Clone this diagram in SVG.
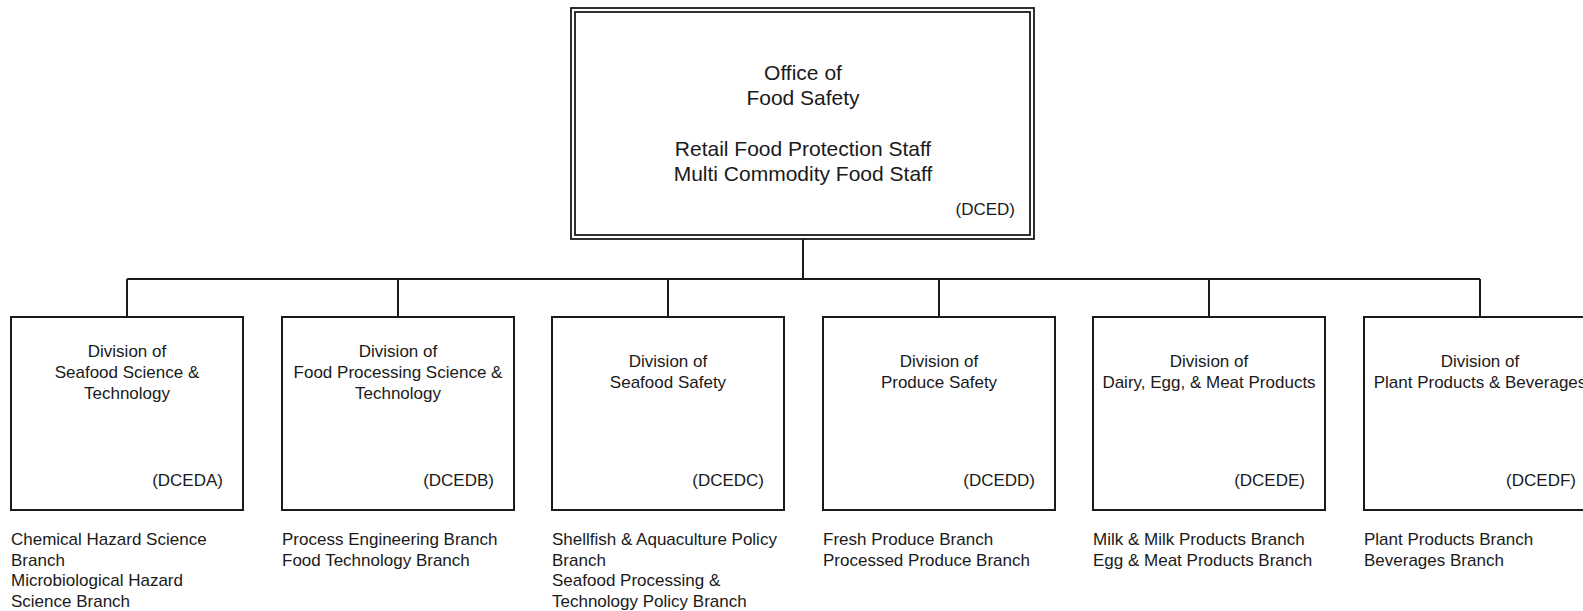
<svg xmlns="http://www.w3.org/2000/svg" width="1583" height="611" viewBox="0 0 1583 611">
<style>
  .box { fill: #ffffff; stroke: #1a1a1a; stroke-width: 2; }
  .dbl { fill: none; stroke: #1a1a1a; stroke-width: 1.8; }
  .conn { stroke: #1a1a1a; stroke-width: 2; fill: none; }
  text { font-family: "Liberation Sans", Arial, sans-serif; fill: #1a1a1a; }
  .t21 { font-size: 21px; text-anchor: middle; }
  .c17 { font-size: 17px; text-anchor: middle; }
  .r17 { font-size: 17px; text-anchor: end; }
  .l17 { font-size: 17px; text-anchor: start; }
</style>
<rect width="1583" height="611" fill="#ffffff"/>
<g id="connectors">
  <line class="conn" x1="803" y1="239" x2="803" y2="279"/>
  <line class="conn" x1="127" y1="279" x2="1480" y2="279"/>
  <line class="conn" x1="127" y1="279" x2="127" y2="317"/>
  <line class="conn" x1="398" y1="279" x2="398" y2="317"/>
  <line class="conn" x1="668" y1="279" x2="668" y2="317"/>
  <line class="conn" x1="939" y1="279" x2="939" y2="317"/>
  <line class="conn" x1="1209" y1="279" x2="1209" y2="317"/>
  <line class="conn" x1="1480" y1="279" x2="1480" y2="317"/>
</g>
<g id="office">
  <rect class="dbl" x="571" y="8" width="463" height="231" fill="#ffffff"/>
  <rect class="dbl" x="575" y="12" width="455" height="223"/>
  <text class="t21" x="803" y="80">Office of</text>
  <text class="t21" x="803" y="105">Food Safety</text>
  <text class="t21" x="803" y="156">Retail Food Protection Staff</text>
  <text class="t21" x="803" y="181">Multi Commodity Food Staff</text>
  <text class="r17" x="1015" y="215">(DCED)</text>
</g>
<g id="dceda">
  <rect class="box" x="11" y="317" width="232" height="193"/>
  <text class="c17" x="127" y="357">Division of</text>
  <text class="c17" x="127" y="378">Seafood Science &amp;</text>
  <text class="c17" x="127" y="399">Technology</text>
  <text class="r17" x="223" y="486">(DCEDA)</text>
  <text class="l17" x="11" y="545">Chemical Hazard Science</text>
  <text class="l17" x="11" y="565.5">Branch</text>
  <text class="l17" x="11" y="586">Microbiological Hazard</text>
  <text class="l17" x="11" y="606.5">Science Branch</text>
</g>
<g id="dcedb">
  <rect class="box" x="282" y="317" width="232" height="193"/>
  <text class="c17" x="398" y="357">Division of</text>
  <text class="c17" x="398" y="378">Food Processing Science &amp;</text>
  <text class="c17" x="398" y="399">Technology</text>
  <text class="r17" x="494" y="486">(DCEDB)</text>
  <text class="l17" x="282" y="545">Process Engineering Branch</text>
  <text class="l17" x="282" y="565.5">Food Technology Branch</text>
</g>
<g id="dcedc">
  <rect class="box" x="552" y="317" width="232" height="193"/>
  <text class="c17" x="668" y="367">Division of</text>
  <text class="c17" x="668" y="388">Seafood Safety</text>
  <text class="r17" x="764" y="486">(DCEDC)</text>
  <text class="l17" x="552" y="545">Shellfish &amp; Aquaculture Policy</text>
  <text class="l17" x="552" y="565.5">Branch</text>
  <text class="l17" x="552" y="586">Seafood Processing &amp;</text>
  <text class="l17" x="552" y="606.5">Technology Policy Branch</text>
</g>
<g id="dcedd">
  <rect class="box" x="823" y="317" width="232" height="193"/>
  <text class="c17" x="939" y="367">Division of</text>
  <text class="c17" x="939" y="388">Produce Safety</text>
  <text class="r17" x="1035" y="486">(DCEDD)</text>
  <text class="l17" x="823" y="545">Fresh Produce Branch</text>
  <text class="l17" x="823" y="565.5">Processed Produce Branch</text>
</g>
<g id="dcede">
  <rect class="box" x="1093" y="317" width="232" height="193"/>
  <text class="c17" x="1209" y="367">Division of</text>
  <text class="c17" x="1209" y="388">Dairy, Egg, &amp; Meat Products</text>
  <text class="r17" x="1305" y="486">(DCEDE)</text>
  <text class="l17" x="1093" y="545">Milk &amp; Milk Products Branch</text>
  <text class="l17" x="1093" y="565.5">Egg &amp; Meat Products Branch</text>
</g>
<g id="dcedf">
  <rect class="box" x="1364" y="317" width="232" height="193"/>
  <text class="c17" x="1480" y="367">Division of</text>
  <text class="c17" x="1480" y="388">Plant Products &amp; Beverages</text>
  <text class="r17" x="1576" y="486">(DCEDF)</text>
  <text class="l17" x="1364" y="545">Plant Products Branch</text>
  <text class="l17" x="1364" y="565.5">Beverages Branch</text>
</g>
</svg>
